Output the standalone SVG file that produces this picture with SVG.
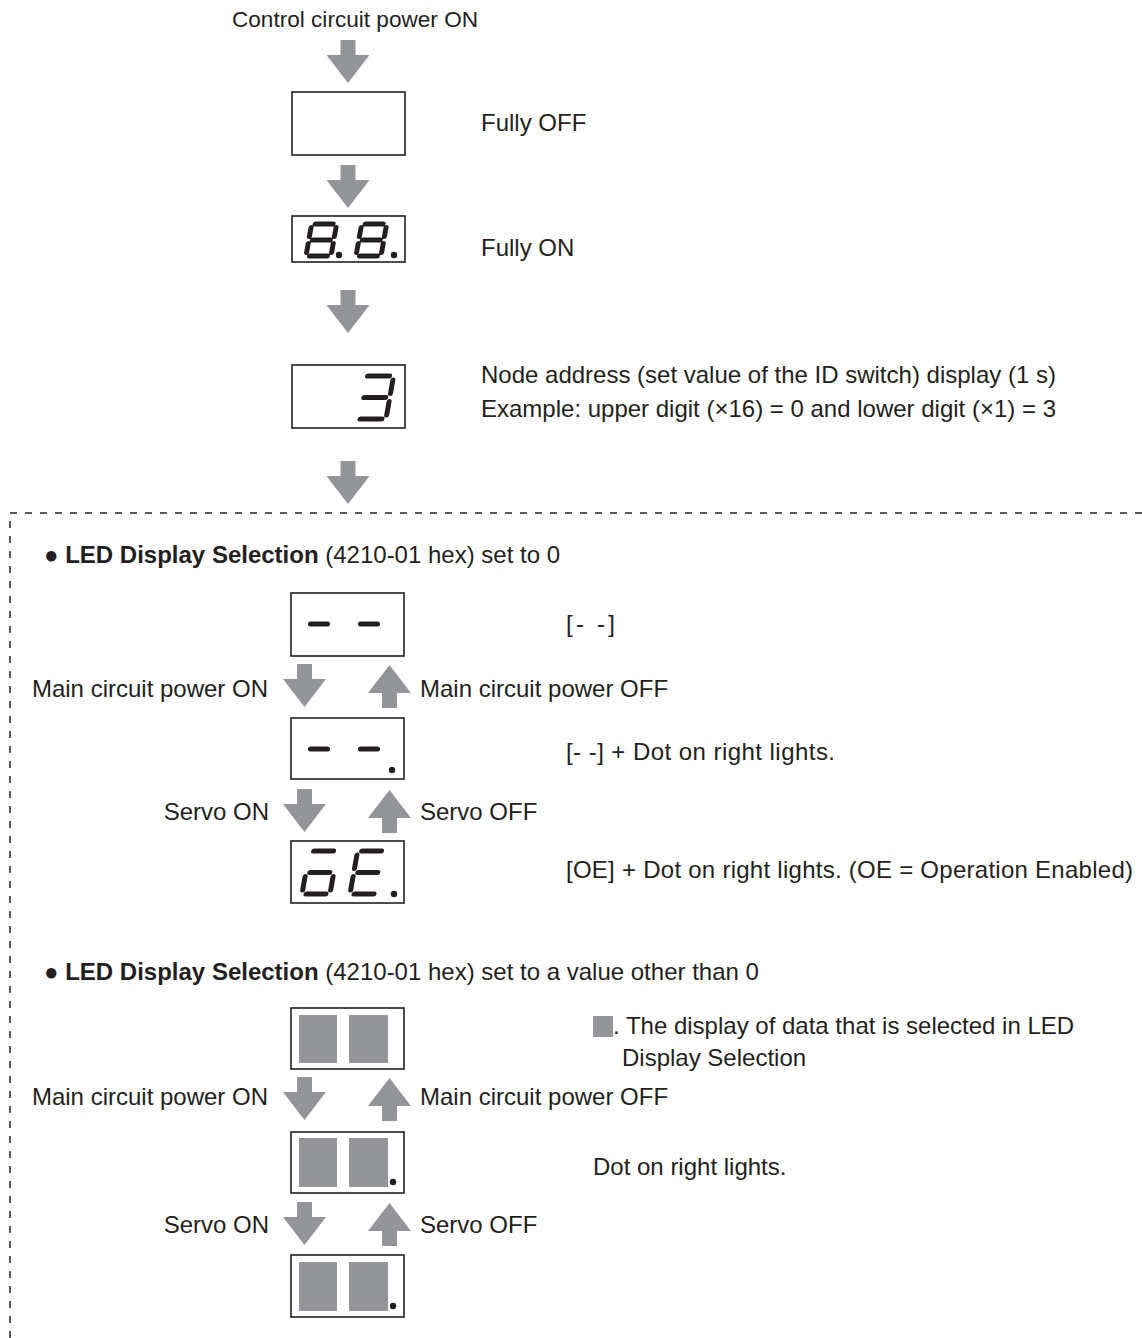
<svg xmlns="http://www.w3.org/2000/svg" width="1142" height="1338" viewBox="0 0 1142 1338">
<style>
text{font-family:"Liberation Sans",Arial,sans-serif;font-size:24px;fill:#231f20}
.t0{font-size:22.6px}
.b{font-weight:bold}
.box{fill:#fff;stroke:#231f20;stroke-width:1.6}
.arr{fill:#939598}
.seg{fill:none;stroke:#231f20;stroke-width:5;stroke-linecap:round}
.dot{fill:#231f20}
.gry{fill:#939598}
.dash{fill:none;stroke:#231f20;stroke-width:1.5;stroke-dasharray:7 8}
</style>
<defs>
<polygon id="dn" points="-7.5,0 7.5,0 7.5,15 21.5,15 0,43 -21.5,15 -7.5,15"/>
<polygon id="up" points="-7.5,43 7.5,43 7.5,28 21.5,28 0,0 -21.5,28 -7.5,28"/>
</defs>
<rect width="1142" height="1338" fill="#fff"/>
<path class="dash" d="M10,1338 V513 H1142"/>

<g id="connectors">
<use href="#dn" class="arr" x="348" y="40"/>
<use href="#dn" class="arr" x="348" y="165"/>
<use href="#dn" class="arr" x="348" y="290"/>
<use href="#dn" class="arr" x="348" y="461"/>
<use href="#dn" class="arr" x="304.5" y="664"/>
<use href="#up" class="arr" x="389.5" y="665"/>
<use href="#dn" class="arr" x="304.5" y="789"/>
<use href="#up" class="arr" x="389.5" y="790"/>
<use href="#dn" class="arr" x="304.5" y="1077"/>
<use href="#up" class="arr" x="389.5" y="1078"/>
<use href="#dn" class="arr" x="304.5" y="1202"/>
<use href="#up" class="arr" x="389.5" y="1203"/>
</g>

<g id="start"><text class="t0" x="355" y="27" text-anchor="middle">Control circuit power ON</text></g>

<g id="n-off">
<rect class="box" x="292" y="92" width="113" height="63"/>
<text x="481" y="131">Fully OFF</text>
</g>

<g id="n-on">
<rect class="box" x="292" y="216" width="113" height="46"/>
<g transform="translate(306,256) skewX(-10)"><path class="seg" d="M3.5,-32H21.5M25,-28.5V-19.5M25,-12.5V-3.5M3.5,0H21.5M0,-12.5V-3.5M0,-28.5V-19.5M3.5,-16H21.5"/></g>
<g transform="translate(356,256) skewX(-10)"><path class="seg" d="M3.5,-32H21.5M25,-28.5V-19.5M25,-12.5V-3.5M3.5,0H21.5M0,-12.5V-3.5M0,-28.5V-19.5M3.5,-16H21.5"/></g>
<circle class="dot" cx="339" cy="255" r="3.2"/>
<circle class="dot" cx="394" cy="255" r="3.2"/>
<text x="481" y="256">Fully ON</text>
</g>

<g id="n-addr">
<rect class="box" x="292" y="365" width="113" height="63"/>
<g transform="translate(356,419) skewX(-10)"><path class="seg" d="M4,-43H26M30,-39V-25.5M30,-17.5V-4M4,0H26M4,-21.5H26"/></g>
<text x="481" y="383">Node address (set value of the ID switch) display (1 s)</text>
<text x="481" y="417">Example: upper digit (×16) = 0 and lower digit (×1) = 3</text>
</g>

<g id="h1"><text x="44" y="563">● <tspan class="b">LED Display Selection</tspan> (4210-01 hex) set to 0</text></g>

<g id="a1">
<rect class="box" x="291" y="593" width="113" height="63"/>
<path class="seg" d="M310.5,624H327.5M360.5,624H377.5"/>
<text x="566" y="632" textLength="49" lengthAdjust="spacing">[- -]</text>
</g>
<g id="l1">
<text x="268" y="697" text-anchor="end">Main circuit power ON</text>
<text x="420" y="697">Main circuit power OFF</text>
</g>
<g id="a2">
<rect class="box" x="291" y="718" width="113" height="61"/>
<path class="seg" d="M310.5,749H327.5M360.5,749H377.5"/>
<circle class="dot" cx="392" cy="770" r="3.2"/>
<text x="566" y="760" textLength="269" lengthAdjust="spacing">[- -] + Dot on right lights.</text>
</g>
<g id="l2">
<text x="269" y="820" text-anchor="end">Servo ON</text>
<text x="420" y="820">Servo OFF</text>
</g>
<g id="a3">
<rect class="box" x="291" y="841" width="113" height="62"/>
<g transform="translate(302,894) skewX(-10)"><path class="seg" d="M4,-43H24M28,-17.5V-4M4,0H24M0,-17.5V-4M4,-21.5H24"/></g>
<g transform="translate(350,894) skewX(-10)"><path class="seg" d="M4,-43H24M4,0H24M0,-17.5V-4M0,-39V-25.5M4,-21.5H24"/></g>
<circle class="dot" cx="394" cy="894" r="3.2"/>
<text x="566" y="878" textLength="567" lengthAdjust="spacing">[OE] + Dot on right lights. (OE = Operation Enabled)</text>
</g>

<g id="h2"><text x="44" y="980">● <tspan class="b">LED Display Selection</tspan> (4210-01 hex) set to a value other than 0</text></g>

<g id="b1">
<rect class="box" x="291" y="1008" width="113" height="61"/>
<rect class="gry" x="299" y="1015" width="38" height="48"/>
<rect class="gry" x="349" y="1015" width="39" height="48"/>
<rect class="gry" x="593" y="1016" width="20" height="21"/>
<text x="613" y="1034">. The display of data that is selected in LED</text>
<text x="622" y="1066">Display Selection</text>
</g>
<g id="l3">
<text x="268" y="1105" text-anchor="end">Main circuit power ON</text>
<text x="420" y="1105">Main circuit power OFF</text>
</g>
<g id="b2">
<rect class="box" x="291" y="1132" width="113" height="61"/>
<rect class="gry" x="299" y="1138" width="38" height="49"/>
<rect class="gry" x="349" y="1138" width="39" height="49"/>
<circle class="dot" cx="393" cy="1182" r="3.2"/>
<text x="593" y="1175">Dot on right lights.</text>
</g>
<g id="l4">
<text x="269" y="1233" text-anchor="end">Servo ON</text>
<text x="420" y="1233">Servo OFF</text>
</g>
<g id="b3">
<rect class="box" x="291" y="1255" width="113" height="62"/>
<rect class="gry" x="299" y="1262" width="38" height="49"/>
<rect class="gry" x="349" y="1262" width="39" height="49"/>
<circle class="dot" cx="393" cy="1306" r="3.2"/>
</g>
</svg>
